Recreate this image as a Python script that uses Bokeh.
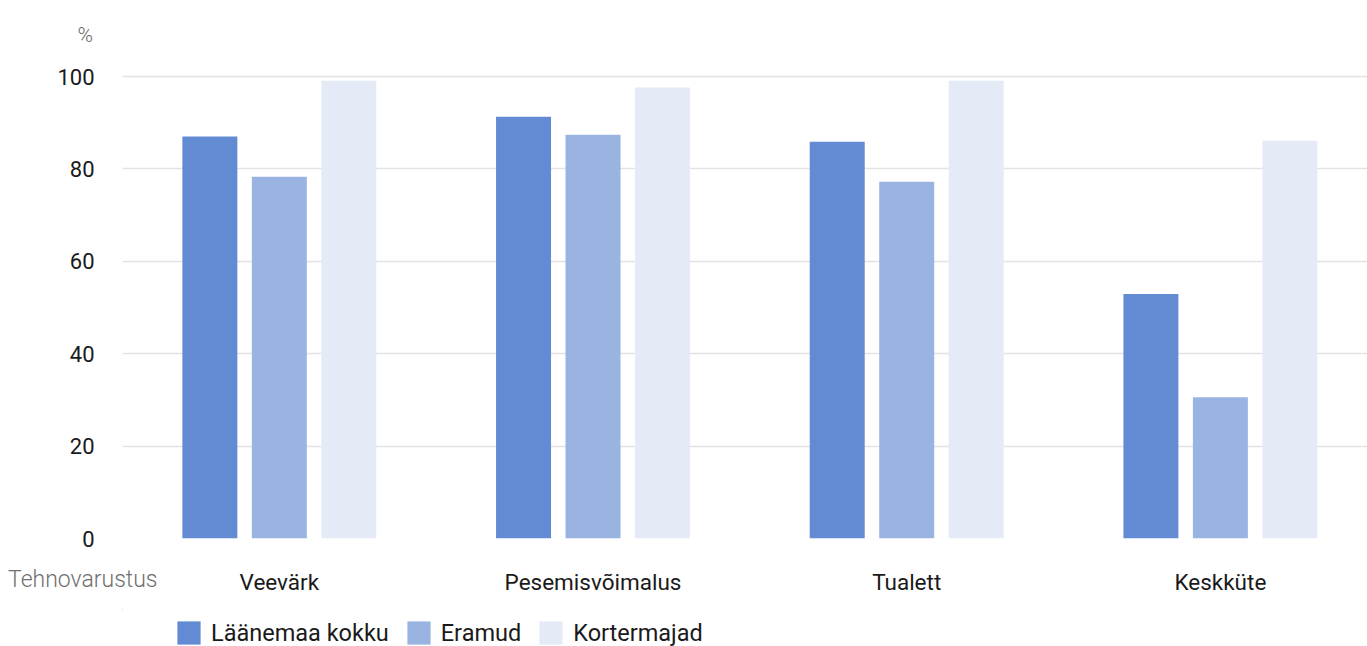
from bokeh.plotting import figure
from bokeh.layouts import column
from bokeh.models import (ColumnDataSource, Range1d, FixedTicker, Legend, LegendItem,
                          LinearAxis, Title)
from bokeh.transform import dodge
from bokeh.embed import file_html
from bokeh.resources import INLINE

categories = ["Veevärk", "Pesemisvõimalus", "Tualett", "Keskküte"]
series = ["Läänemaa kokku", "Eramud", "Kortermajad"]
laanemaa = [87.0, 91.3, 85.9, 52.9]
eramud = [78.3, 87.4, 77.2, 30.6]
kortermajad = [99.1, 97.6, 99.1, 86.1]
y_ticks = [0, 20, 40, 60, 80, 100]
colors = ["#628bd3", "#9ab4e2", "#e4eaf6"]
x_title = "Tehnovarustus"
y_unit = "%"

xs = list(range(1, len(categories) + 1))
src = ColumnDataSource(dict(x=xs, cat=categories, l=laanemaa, e=eramud, k=kortermajad))
offs = [-0.2215, 0.0, 0.2215]
cols = ["l", "e", "k"]

p = figure(width=1367, height=609, output_backend="svg", toolbar_location=None,
           x_range=Range1d(0.5, 4.469), y_range=Range1d(0, 101.95),
           min_border_left=122, min_border_right=0, min_border_top=60, min_border_bottom=60)
p.outline_line_color = None

for off, c, col in zip(offs, cols, colors):
    p.vbar(x=dodge("x", off), top=c, width=0.1753, source=src, fill_color=col, line_color=None)

p.xgrid.visible = False
p.ygrid.grid_line_color = "#e3e3e3"
p.ygrid.grid_line_width = 1.5
p.ygrid.ticker = FixedTicker(ticks=y_ticks)

p.yaxis.ticker = FixedTicker(ticks=y_ticks)
p.yaxis.axis_line_color = None
p.yaxis.major_tick_line_color = None
p.yaxis.minor_tick_line_color = None
p.yaxis.major_label_text_font = "Roboto"
p.yaxis.major_label_text_font_size = "22px"
p.yaxis.major_label_text_color = "#1a1a1a"
p.yaxis.major_label_standoff = 22

xax = p.xaxis[0]
xax.ticker = FixedTicker(ticks=xs)
xax.major_label_overrides = {x: c for x, c in zip(xs, categories)}
xax.axis_line_color = None
xax.major_tick_line_color = None
xax.minor_tick_line_color = None
xax.major_label_text_font = "Roboto"
xax.major_label_text_font_size = "22.5px"
xax.major_label_text_color = "#1a1a1a"
xax.major_label_standoff = 24

# axis carrying the category-axis title, right-aligned near the frame's left edge
p.extra_x_ranges = {"t": Range1d(0, 1245)}
tax = LinearAxis(x_range_name="t", ticker=FixedTicker(ticks=[35]),
                 major_label_overrides={35: x_title})
tax.axis_line_color = None
tax.major_tick_line_color = None
tax.minor_tick_line_color = None
tax.major_label_text_font = "Roboto Light, Roboto"
tax.major_label_text_font_size = "23px"
tax.major_label_text_color = "#707070"
tax.major_label_orientation = 1e-6
tax.major_label_standoff = -24
p.below = [xax, tax]

p.add_layout(Title(text=y_unit, align="left", offset=-45, standoff=41, text_font="Roboto Light, Roboto",
                   text_font_size="21px", text_font_style="normal", text_color="#666666"), "above")

# legend strip
q = figure(width=1367, height=37, output_backend="svg", toolbar_location=None,
           x_axis_type=None, y_axis_type=None, x_range=Range1d(100, 101), y_range=Range1d(-200, -199),
           min_border_left=0, min_border_right=0, min_border_top=0, min_border_bottom=0)
q.outline_line_color = None
rends = []
for off, c, col in zip(offs, cols, colors):
    rends.append(q.vbar(x=dodge("x", off), top=c, width=0.1753, source=src,
                        fill_color=col, line_color=None))

legend = Legend(items=[LegendItem(label=s, renderers=[r]) for s, r in zip(series, rends)],
                location=(52, -1), orientation="horizontal", glyph_width=29, glyph_height=29,
                label_text_font="Roboto", label_text_font_size="23.5px", label_text_color="#1a1a1a",
                spacing=15, padding=0, margin=0, label_standoff=8,
                border_line_color=None, background_fill_alpha=0)
q.add_layout(legend, "center")

layout = column(p, q)
open("out.html", "w").write(file_html(layout, INLINE))
